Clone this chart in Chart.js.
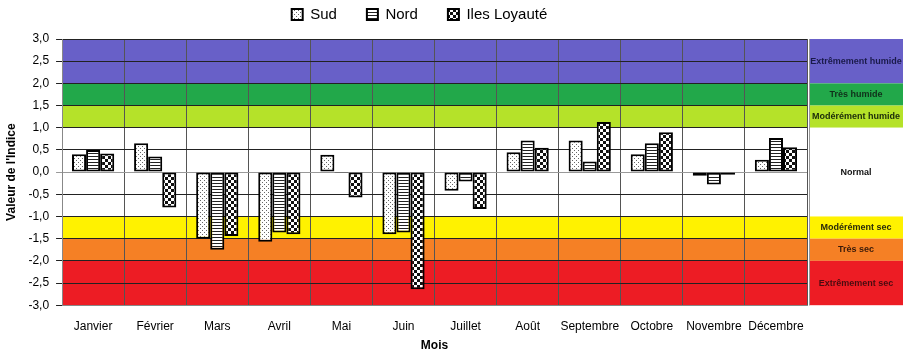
<!DOCTYPE html>
<html><head><meta charset="utf-8">
<script src="https://cdn.jsdelivr.net/npm/chart.js@4.4.1/dist/chart.umd.min.js"></script>
<style>html,body{margin:0;padding:0;background:#fff}#wrap{width:909px;height:357px}</style>
</head><body><div id="wrap"><canvas id="c" width="909" height="357"></canvas></div>
<script>
const months = ['Janvier','Février','Mars','Avril','Mai','Juin','Juillet','Août','Septembre','Octobre','Novembre','Décembre'];
const sud  = [0.40, 0.65, -1.50, -1.57, 0.39, -1.40, -0.42, 0.45, 0.71, 0.40, -0.08, 0.28];
const nord = [0.50, 0.35, -1.75, -1.36, -0.02, -1.36, -0.21, 0.71, 0.24, 0.65, -0.28, 0.77];
const iles = [0.42, -0.80, -1.44, -1.40, -0.57, -2.64, -0.83, 0.55, 1.13, 0.90, -0.06, 0.56];
const seriesNames = ['Sud','Nord','Iles Loyauté'];
const bandLabels = ['Extrêmement humide','Très humide','Modérément humide','Normal','Modérément sec','Très sec','Extrêmement sec'];
const bandFrom = [3.0, 2.0, 1.5, 1.0, -1.0, -1.5, -2.0];
const bandTo   = [2.0, 1.5, 1.0, -1.0, -1.5, -2.0, -3.0];
const bandColors = ['#6860c8','#22a84a','#b5e229','#ffffff','#fff200','#f58025','#ed1c24'];
const bandTextColors = ['#1a1a4a','#10301a','#1a2a0a','#111111','#2a2a0a','#3a1a0a','#4a0c10'];

function makePattern(type){
  const c = document.createElement('canvas');
  const x = c.getContext('2d');
  if(type==='dots'){
    c.width=4;c.height=4;x.fillStyle='#fff';x.fillRect(0,0,4,4);
    x.fillStyle='#666';x.fillRect(0,0,1,1);x.fillRect(2,2,1,1);
  } else if(type==='lines'){
    c.width=4;c.height=3;x.fillStyle='#fff';x.fillRect(0,0,4,3);
    x.fillStyle='#222';x.fillRect(0,0,4,1);
  } else {
    c.width=6;c.height=6;x.fillStyle='#fff';x.fillRect(0,0,6,6);
    x.fillStyle='#111';x.fillRect(0,0,3,3);x.fillRect(3,3,3,3);
  }
  return document.getElementById('c').getContext('2d').createPattern(c,'repeat');
}

const bandsPlugin = {
  id:'bands',
  beforeDraw(chart){
    const {ctx, chartArea:a, scales:{y}} = chart;
    ctx.save();
    ctx.fillStyle='#fff';ctx.fillRect(0,0,chart.width,chart.height);
    const px0 = a.right+2, px1 = a.right+96;
    for(let i=0;i<bandFrom.length;i++){
      const t = y.getPixelForValue(bandFrom[i]);
      const b = y.getPixelForValue(bandTo[i]);
      ctx.fillStyle = bandColors[i];
      ctx.fillRect(a.left, t, a.right-a.left, b-t);
      ctx.fillRect(px0, t, px1-px0, b-t);
      ctx.fillStyle = bandTextColors[i];
      ctx.font = 'bold 9px "Liberation Sans", Arial, sans-serif';
      ctx.textAlign='center';ctx.textBaseline='middle';
      ctx.fillText(bandLabels[i], (px0+px1)/2, (t+b)/2, px1-px0-2);
    }
    ctx.strokeStyle='#999';ctx.lineWidth=1;
    ctx.beginPath();ctx.moveTo(px0+0.5,a.top);ctx.lineTo(px0+0.5,a.bottom);ctx.stroke();
    ctx.restore();
  },
  afterLayout(chart){
    const lg = chart.legend;
    if(lg){ lg.top -= 23; lg.left += 14; lg.right += 14; }
  }
};

const FONT = '"Liberation Sans", Arial, sans-serif';
new Chart(document.getElementById('c'), {
  type:'bar',
  data:{
    labels: months,
    datasets:[
      {label:seriesNames[0], data:sud, backgroundColor:makePattern('dots'), borderColor:'#000', borderWidth:2, borderSkipped:false},
      {label:seriesNames[1], data:nord, backgroundColor:makePattern('lines'), borderColor:'#000', borderWidth:2, borderSkipped:false},
      {label:seriesNames[2], data:iles, backgroundColor:makePattern('check'), borderColor:'#000', borderWidth:2, borderSkipped:false}
    ]
  },
  options:{
    responsive:false, animation:false,
    layout:{padding:{left:4,right:102,top:0,bottom:0}},
    datasets:{bar:{categoryPercentage:0.68, barPercentage:1.0}},
    plugins:{
      tooltip:{enabled:false},
      legend:{position:'top', maxHeight:39,
        labels:{boxWidth:11, boxHeight:11, padding:30, color:'#000', font:{family:FONT, size:15}}}
    },
    scales:{
      x:{
        grid:{offset:true, color:'#555', lineWidth:1, drawTicks:false},
        border:{color:'#888'},
        ticks:{color:'#000', padding:14, font:{family:FONT, size:12}, maxRotation:0, autoSkip:false},
        title:{display:true, text:'Mois', color:'#000', font:{family:FONT, size:12, weight:'bold'}, padding:{top:-9,bottom:4}}
      },
      y:{
        min:-3, max:3,
        grid:{color:(c)=> c.tick && c.tick.value===0 ? '#999' : '#222', lineWidth:1, tickLength:6},
        border:{color:'#888'},
        ticks:{stepSize:0.5, color:'#000', padding:7, font:{family:FONT, size:12},
          callback:(v)=> Number(v).toFixed(1).replace('.',',')},
        title:{display:true, text:"Valeur de l'Indice", color:'#000', font:{family:FONT, size:12, weight:'bold'}, padding:{top:0,bottom:3}}
      }
    }
  },
  plugins:[bandsPlugin]
});
</script></body></html>
